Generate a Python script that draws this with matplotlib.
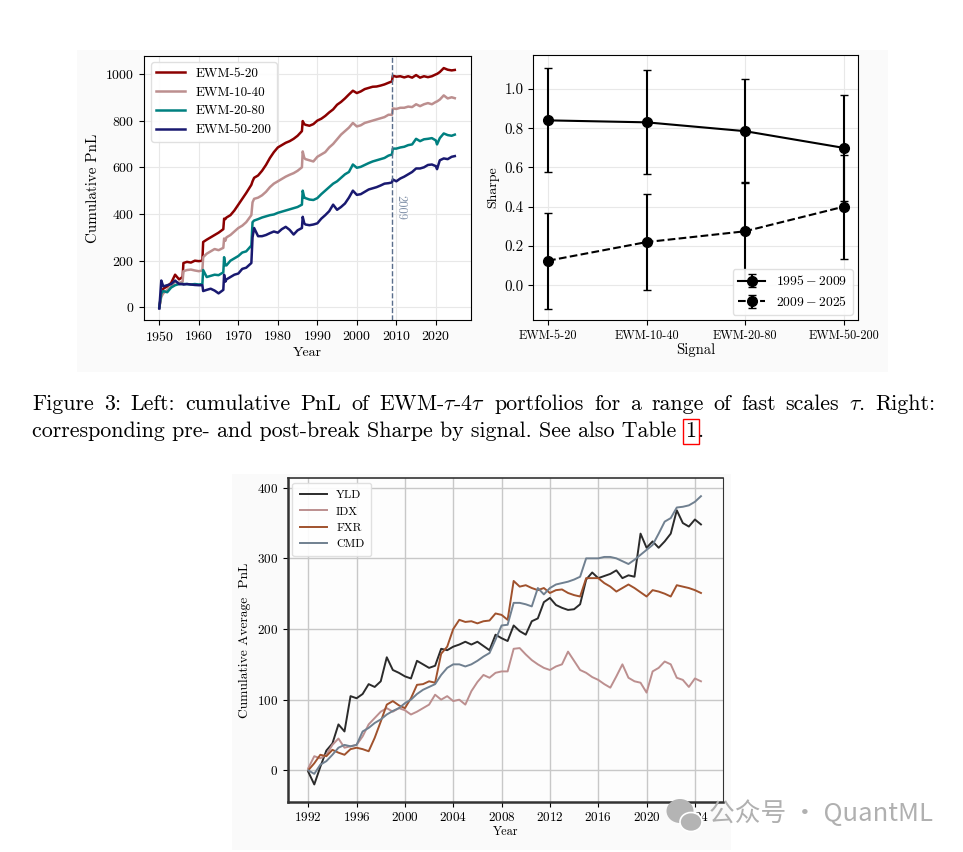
#!/usr/bin/env python3

# Figure 3 page crop: cumulative PnL of EWM portfolios, pre/post-break Sharpe,
# caption, and the per-asset-class cumulative average PnL below it.

import matplotlib
matplotlib.use('Agg')
import matplotlib.pyplot as plt
import matplotlib.patches as mpatches
import numpy as np

plt.rcParams['font.family'] = 'cmr10'
plt.rcParams['mathtext.fontset'] = 'cm'
plt.rcParams['axes.formatter.use_mathtext'] = True
plt.rcParams['axes.unicode_minus'] = False

# ---------------- data: left panel (cumulative PnL)
pnlYears = [1950, 1950.5, 1951, 1952, 1953, 1954, 1955,
            1955.9, 1956.1, 1957, 1958, 1959, 1960,
            1960.9, 1961.1, 1962, 1963, 1964, 1965,
            1966.2, 1966.4, 1966.7, 1967, 1968, 1969, 1970, 1971, 1972,
            1973.3, 1973.6, 1974, 1975, 1976, 1977, 1978, 1979, 1980,
            1981, 1982, 1983, 1984, 1985,
            1986.1, 1986.3, 1986.7, 1987, 1988, 1989, 1990,
            1991, 1992, 1993, 1994, 1995, 1996, 1997, 1998, 1999, 2000,
            2001, 2002, 2003, 2004, 2005, 2006, 2007, 2008,
            2008.9, 2009.1,
            2010, 2011, 2012, 2013, 2014, 2015, 2016, 2017, 2018, 2019, 2020,
            2020.3, 2021, 2022, 2023, 2024, 2024.8]

ewm5_20 = [0, 55, 80, 90, 105, 140, 120,
           130, 190, 195, 192, 200, 198,
           200, 280, 290, 300, 310, 320,
           335, 380, 378, 385, 395, 415, 440, 465, 490,
           525, 540, 555, 565, 585, 610, 640, 665, 685,
           695, 705, 712, 722, 735,
           755, 798, 785, 782, 778, 785, 800,
           808, 820, 835, 848, 868, 880, 895, 912, 928, 918,
           925, 935, 940, 945, 946, 950, 955, 962,
           968, 992,
           988, 990, 985, 990, 984, 995, 984, 990, 986, 990, 998,
           1000, 1008, 1025, 1018, 1015, 1017]

ewm10_40 = [0, 45, 60, 75, 90, 110, 105,
            110, 155, 160, 162, 158, 155,
            158, 215, 230, 240, 250, 245,
            255, 295, 285, 300, 310, 325, 340, 350, 365,
            395, 450, 465, 470, 480, 495, 515, 530, 540,
            550, 560, 568, 575, 585,
            600, 668, 640, 635, 630, 625, 645,
            655, 665, 685, 700, 720, 740, 755, 770, 790, 775,
            780, 790, 795, 800, 805, 810, 815, 825,
            825, 852,
            850, 855, 855, 860, 858, 870, 862, 870, 875, 870, 880,
            882, 890, 908, 895, 900, 896]

ewm20_80 = [0, 60, 70, 65, 85, 95, 100,
            100, 100, 100, 98, 100, 98,
            100, 160, 130, 135, 140, 138,
            150, 215, 180, 180, 200, 210, 220, 235, 240,
            265, 365, 372, 378, 385, 390, 395, 398, 405,
            410, 415, 420, 425, 430,
            440, 500, 470, 468, 462, 460, 468,
            485, 500, 515, 530, 540, 555, 570, 580, 612, 598,
            602, 610, 618, 625, 630, 635, 640, 650,
            655, 680,
            680, 685, 688, 695, 698, 722, 712, 720, 722, 725, 715,
            698, 725, 745, 738, 735, 740]

ewm50_200 = [-5, 115, 90, 95, 100, 115, 100,
             100, 98, 100, 98, 96, 95,
             95, 70, 75, 80, 72, 60,
             75, 140, 110, 120, 130, 140, 145, 165, 170,
             190, 300, 340, 305, 305, 310, 318, 325, 320,
             335, 345, 332, 312, 330,
             340, 388, 360, 355, 352, 355, 360,
             380, 395, 412, 440, 418, 430, 445, 470, 500, 482,
             485, 495, 505, 510, 515, 522, 530, 532,
             535, 548,
             540, 552, 560, 570, 580, 595, 595, 600, 610, 612, 605,
             592, 630, 638, 635, 645, 648]

pnlLabels = ['EWM-5-20', 'EWM-10-40', 'EWM-20-80', 'EWM-50-200']
pnlColors = ['#8b0000', '#bc8f8f', '#008080', '#191970']
breakYear = 2009

# ---------------- data: right panel (Sharpe by signal)
signals = ['EWM-5-20', 'EWM-10-40', 'EWM-20-80', 'EWM-50-200']
sharpePre = [0.84, 0.83, 0.785, 0.70]
errPre = [0.265, 0.265, 0.265, 0.27]
sharpePost = [0.125, 0.22, 0.275, 0.40]
errPost = [0.245, 0.245, 0.25, 0.265]

# ---------------- data: bottom panel (cumulative average PnL, half-year samples)
avgYears = np.arange(1992, 2024.6, 0.5)

yld = [-2, -20, 5, 28, 38, 65, 55, 105, 102, 108, 122, 118, 126, 160, 142, 138,
       133, 130, 155, 150, 145, 148, 172, 170, 175, 178, 182, 178, 182, 176, 170, 192,
       187, 183, 205, 197, 192, 211, 215, 238, 244, 234, 230, 227, 228, 235, 270, 280,
       272, 275, 278, 283, 272, 276, 274, 335, 315, 324, 315, 324, 335, 368, 350, 345,
       355, 348]

idx = [3, 20, 17, 22, 36, 45, 32, 34, 36, 48, 65, 74, 83, 88, 83, 88,
       85, 79, 83, 88, 93, 107, 100, 105, 98, 100, 93, 112, 125, 135, 131, 138,
       140, 140, 172, 173, 164, 156, 150, 145, 142, 147, 150, 168, 155, 142, 138, 132,
       128, 122, 117, 133, 150, 131, 126, 124, 110, 140, 145, 154, 150, 131, 128, 118,
       130, 126]

fxr = [0, 10, 22, 20, 29, 25, 22, 30, 32, 30, 27, 46, 69, 93, 98, 92,
       88, 102, 121, 122, 126, 124, 165, 175, 200, 213, 210, 211, 208, 211, 212, 222,
       220, 213, 268, 260, 262, 258, 255, 258, 251, 255, 256, 251, 248, 246, 272, 272,
       272, 265, 260, 253, 258, 263, 258, 252, 246, 255, 253, 250, 246, 262, 260, 258,
       255, 251]

cmd = [0, -5, 8, 13, 22, 32, 36, 34, 36, 55, 60, 67, 72, 79, 84, 88,
       95, 100, 108, 114, 118, 122, 135, 145, 150, 150, 147, 150, 155, 161, 166, 185,
       205, 206, 237, 237, 235, 232, 258, 249, 258, 263, 265, 267, 270, 274, 300, 300,
       300, 302, 302, 300, 296, 292, 298, 305, 312, 319, 335, 352, 357, 372, 373, 375,
       380, 388]

avgLabels = ['YLD', 'IDX', 'FXR', 'CMD']
avgColors = ['#2b2b2b', '#bc8f8f', '#a0522d', '#708090']

captionLine1 = (r'Figure 3: Left: cumulative PnL of EWM-$\tau$-4$\tau$ portfolios '
                r'for a range of fast scales $\tau$. Right:')
captionLine2 = 'corresponding pre- and post-break Sharpe by signal. See also Table '

#############
# The plotting

W, H = 963, 852
fig = plt.figure(figsize=(W / 100, H / 100), dpi=100)
fig.patch.set_facecolor('white')

def figRect(x0, y0, x1, y1):
    # pixel box (top-left origin) -> figure fraction [l, b, w, h]
    return [x0 / W, 1 - y1 / H, (x1 - x0) / W, (y1 - y0) / H]

# faint backgrounds of the embedded images
for box in [(77, 50, 888, 372), (232, 474, 731, 850)]:
    l, b, w, h = figRect(*box)
    fig.patches.append(mpatches.Rectangle((l, b), w, h, transform=fig.transFigure,
                                          facecolor='#fafafa', edgecolor='none', zorder=-5))

# --- left: cumulative PnL
axPnl = fig.add_axes(figRect(144.3, 55.7, 471, 320))
for series, label, color in zip([ewm5_20, ewm10_40, ewm20_80, ewm50_200], pnlLabels, pnlColors):
    axPnl.plot(pnlYears, series, color=color, lw=1.8, label=label)
axPnl.axvline(breakYear, color='#5a6e8c', ls='--', lw=1.0)
axPnl.text(breakYear + 0.6, 428, '2009', rotation=270, color='#8090a8',
           fontsize=9, ha='left', va='center')
axPnl.set_xlim(1946.2, 2028.9)
axPnl.set_ylim(-54, 1078)
axPnl.set_xticks(range(1950, 2021, 10))
axPnl.set_yticks(range(0, 1001, 200))
axPnl.set_xlabel('Year', fontsize=10, labelpad=2)
axPnl.set_ylabel('Cumulative PnL', fontsize=10.8, labelpad=4)
axPnl.tick_params(labelsize=10)
axPnl.grid(True, color='#e8e8e8', lw=0.8)
axPnl.set_axisbelow(True)
axPnl.legend(loc='upper left', fontsize=9.5, handlelength=2.2, borderaxespad=0.5,
             framealpha=0.9, edgecolor='#dddddd', fancybox=True)

# --- right: Sharpe by signal
axSh = fig.add_axes(figRect(533.3, 55, 858.3, 320))
pos = np.arange(len(signals))
axSh.errorbar(pos, sharpePre, yerr=errPre, fmt='-o', color='black', ms=7,
              capsize=3, lw=1.5, elinewidth=1.5, label=r'$1995-2009$')
axSh.errorbar(pos, sharpePost, yerr=errPost, fmt='--o', color='black', ms=7,
              capsize=3, lw=1.5, elinewidth=1.5, label=r'$2009-2025$')
axSh.set_xlim(-0.15, 3.15)
axSh.set_ylim(-0.177, 1.173)
axSh.set_xticks(pos)
axSh.set_xticklabels(signals, fontsize=8.8)
axSh.set_yticks([0.0, 0.2, 0.4, 0.6, 0.8, 1.0])
axSh.set_yticklabels(['0.0', '0.2', '0.4', '0.6', '0.8', '1.0'])
axSh.tick_params(axis='y', labelsize=10.8)
axSh.set_xlabel('Signal', fontsize=10.5, labelpad=1)
axSh.set_ylabel('Sharpe', fontsize=10, labelpad=4)
axSh.grid(True, color='#e8e8e8', lw=0.8)
axSh.set_axisbelow(True)
axSh.legend(loc='lower right', fontsize=9.8, handlelength=2.0, borderaxespad=0.4,
            framealpha=0.9, edgecolor='#dddddd')

# --- caption (first line justified between 32 px and 935 px)
capSize = 15.8
fig.canvas.draw()
renderer = fig.canvas.get_renderer()
words = captionLine1.split(' ')
wordTexts = [fig.text(0, 1 - 410 / H, w, fontsize=capSize, va='baseline') for w in words]
widths = [t.get_window_extent(renderer).width for t in wordTexts]
gap = (935 - 32 - sum(widths)) / (len(words) - 1)
xpos = 32
for t, w in zip(wordTexts, widths):
    t.set_x(xpos / W)
    xpos += w + gap

cap2 = fig.text(32 / W, 1 - 437 / H, captionLine2, fontsize=capSize, va='baseline')
bb = cap2.get_window_extent(renderer)
ref = fig.text(bb.x1 / W + 0.002, 1 - 437 / H, '1', fontsize=capSize, va='baseline',
               bbox=dict(boxstyle='square,pad=0.12', fc='none', ec='red', lw=1.0))
bb = ref.get_window_extent(renderer)
fig.text(bb.x1 / W + 0.001, 1 - 437 / H, '.', fontsize=capSize, va='baseline')

# --- bottom: cumulative average PnL by asset class
axAvg = fig.add_axes(figRect(287.7, 478.3, 722.7, 801.7))
for series, label, color in zip([yld, idx, fxr, cmd], avgLabels, avgColors):
    axAvg.plot(avgYears, series, color=color, lw=1.4, label=label)
axAvg.set_xlim(1990.3, 2026.3)
axAvg.set_ylim(-44.4, 413.3)
axAvg.set_xticks(range(1992, 2025, 4))
axAvg.set_yticks(range(0, 401, 100))
axAvg.tick_params(labelsize=9.5)
axAvg.set_xlabel('Year', fontsize=8.8, labelpad=1)
axAvg.set_ylabel('Cumulative Average  PnL', fontsize=9.7, labelpad=4)
axAvg.grid(True, color='#c8c8c8', lw=1.0)
axAvg.set_axisbelow(True)
axAvg.set_facecolor('#fdfdfd')
axAvg.spines['left'].set_linewidth(1.8)
axAvg.spines['bottom'].set_linewidth(1.8)
axAvg.spines['top'].set_linewidth(1.2)
axAvg.spines['right'].set_linewidth(0.8)
for s in axAvg.spines.values():
    s.set_color('#333333')
axAvg.legend(loc='upper left', fontsize=8.5, handlelength=2.3, borderaxespad=0.4,
             borderpad=0.6, framealpha=0.9, edgecolor='#dddddd')

# --- watermark
inch = fig.dpi_scale_trans
fig.patches.append(mpatches.Ellipse((680 / 100, (H - 811) / 100), 0.27, 0.24, transform=inch,
                                    facecolor='#b4b4b4', edgecolor='none', zorder=5))
fig.patches.append(mpatches.Ellipse((691 / 100, (H - 822) / 100), 0.22, 0.19, transform=inch,
                                    facecolor='#b4b4b4', edgecolor='white', lw=1.2, zorder=6))
fig.text(709 / W, 1 - 814 / H, '公众号 · QuantML', fontsize=18.5, color='#b0b0b0',
         family=['Noto Sans CJK SC', 'DejaVu Sans'], va='center', ha='left', zorder=7)

plt.savefig('out.png', dpi=100)
